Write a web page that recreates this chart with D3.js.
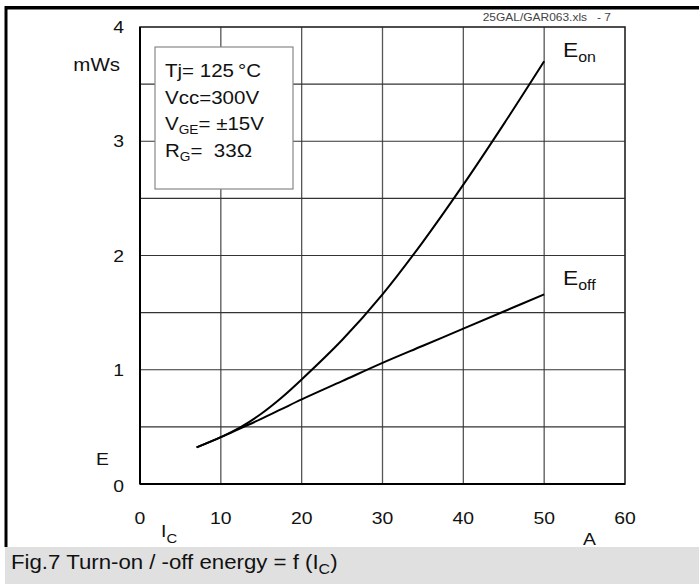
<!DOCTYPE html>
<html>
<head>
<meta charset="utf-8">
<script src="https://cdn.jsdelivr.net/npm/d3@7"></script>
<style>
  html, body { margin: 0; padding: 0; background: #fff; }
  svg { display: block; font-family: "Liberation Sans", Arial, Helvetica, sans-serif; }
  text { white-space: pre; fill: #111; }
</style>
</head>
<body>
<svg id="chart" width="699" height="584"></svg>
<script>
// values
const xTicks = [0, 10, 20, 30, 40, 50, 60];
const yTicks = [0, 1, 2, 3, 4];
const icValues = [7, 10, 12.5, 15, 17.5, 20, 25, 30, 35, 40, 45, 50];
const eOn = [0.32, 0.41, 0.5, 0.615, 0.755, 0.915, 1.26, 1.66, 2.12, 2.62, 3.15, 3.7];
const eOff = [0.32, 0.41, 0.49, 0.57, 0.655, 0.74, 0.9, 1.06, 1.21, 1.36, 1.51, 1.66];
const conditions = [
  ["Tj= 125\u2009\u00B0C"],
  ["Vcc=300V"],
  ["V", "GE", "= \u00B115V"],
  ["R", "G", "=  33\u03A9"]
];

const svg = d3.select("#chart");
const SX = 1.14; // the scan's lettering is a bit wide

// text stretched a little sideways, like the original
function txt(parent, px, py, size, anchor) {
  return parent.append("g")
    .attr("transform", `translate(${px},${py}) scale(${SX},1)`)
    .append("text")
    .attr("font-size", size)
    .attr("text-anchor", anchor || "start");
}
function withSub(t, main, sub, rest, subSize, drop) {
  t.append("tspan").text(main);
  t.append("tspan").attr("font-size", subSize).attr("dy", drop).text(sub);
  if (rest) t.append("tspan").attr("dy", -drop).text(rest);
}

// frame
svg.append("rect").attr("x", 5).attr("y", 547).attr("width", 694).attr("height", 37).attr("fill", "#e0e0e0");
svg.append("rect").attr("x", 5).attr("y", 6).attr("width", 694).attr("height", 3.5).attr("fill", "#000");
svg.append("rect").attr("x", 4.5).attr("y", 6).attr("width", 3).attr("height", 541).attr("fill", "#000");

const x = d3.scaleLinear().domain([0, 60]).range([140, 625]);
const y = d3.scaleLinear().domain([0, 4]).range([484, 27]);

// grid
const g = svg.append("g");
g.selectAll(".vg").data(d3.range(10, 60, 10)).enter().append("line")
  .attr("x1", d => x(d)).attr("x2", d => x(d)).attr("y1", y(4)).attr("y2", y(0))
  .attr("stroke", "#555").attr("stroke-width", 1.3);
g.selectAll(".hg").data(d3.range(0.5, 4, 0.5)).enter().append("line")
  .attr("x1", x(0)).attr("x2", x(60)).attr("y1", d => y(d)).attr("y2", d => y(d))
  .attr("stroke", "#333").attr("stroke-width", 1.2);
g.append("rect").attr("x", x(0)).attr("y", y(4)).attr("width", x(60) - x(0)).attr("height", y(0) - y(4))
  .attr("fill", "none").attr("stroke", "#222").attr("stroke-width", 1.6);
g.append("line").attr("x1", x(0)).attr("x2", x(60)).attr("y1", y(0)).attr("y2", y(0))
  .attr("stroke", "#000").attr("stroke-width", 2.2);
g.append("line").attr("x1", x(0)).attr("x2", x(0)).attr("y1", y(0)).attr("y2", y(4))
  .attr("stroke", "#000").attr("stroke-width", 2);

// condition box
svg.append("rect").attr("x", 155).attr("y", 47).attr("width", 138).attr("height", 142)
  .attr("fill", "#fff").attr("stroke", "#888").attr("stroke-width", 1.2);
conditions.forEach((c, i) => {
  const t = txt(svg, 165, 77 + i * 26.7, 18);
  if (c.length === 3) withSub(t, c[0], c[1], c[2], 12, 4);
  else t.text(c[0]);
});

// axis labels
yTicks.forEach(d => txt(svg, 124, y(d) + (d === 0 ? 8 : 6), 17, "end").text(d));
xTicks.forEach(d => txt(svg, x(d), 524, 17, "middle").text(d));
txt(svg, 120, 71, 18, "end").text("mWs");
txt(svg, 96, 465, 17).text("E");
txt(svg, 583, 545, 17).text("A");
withSub(txt(svg, 161, 537, 17), "I", "C", null, 13, 6);

txt(svg, 611, 21, 10.5, "end").style("fill", "#444").text("25GAL/GAR063.xls   - 7");

// curves
const line = d3.line().x(d => x(d[0])).y(d => y(d[1])).curve(d3.curveCatmullRom.alpha(0.5));
[eOn, eOff].forEach(s => {
  svg.append("path").datum(icValues.map((v, i) => [v, s[i]]))
    .attr("d", line).attr("fill", "none").attr("stroke", "#000").attr("stroke-width", 2);
});

// curve labels
const curveLabels = [["E", "on", 3.82], ["E", "off", 1.82]];
curveLabels.forEach(c => {
  withSub(txt(svg, 563, y(c[2]) + 9, 20), c[0], c[1], null, 14, 5);
});

// caption
withSub(txt(svg, 11, 569, 19.5), "Fig.7 Turn-on / -off energy = f (I", "C", ")", 14, 5);
</script>
</body>
</html>
